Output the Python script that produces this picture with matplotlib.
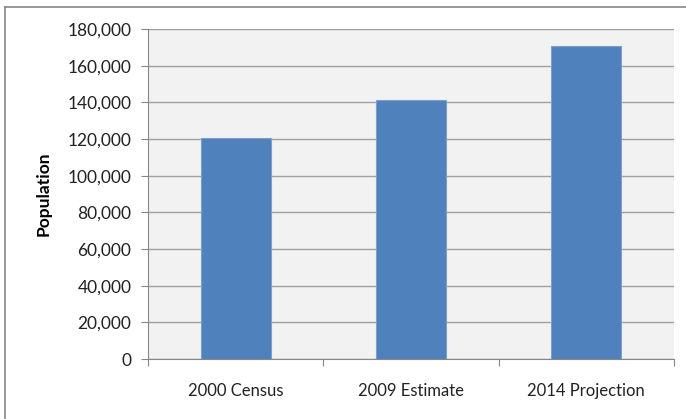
import matplotlib.pyplot as plt
from matplotlib.lines import Line2D
from matplotlib.ticker import FuncFormatter

# данные
categories = ['2000 Census', '2009 Estimate', '2014 Projection']
population = [120500, 141000, 170800]
y_ticks = list(range(0, 180001, 20000))

plt.rcParams['font.family'] = ['Lato', 'DejaVu Sans']

fig = plt.figure(figsize=(6.86, 4.19), dpi=100)
ax = fig.add_axes([148 / 686, 1 - 359 / 419, (674 - 148) / 686, (359 - 29) / 419])

# рамка вокруг всего графика (видны только верх и левый край)
top = 1 - 7 / 419
left = 5 / 686
fig.add_artist(Line2D([left, 1.0], [top, top], transform=fig.transFigure, color='#868686', linewidth=1.2))
fig.add_artist(Line2D([left, left], [0.0, top], transform=fig.transFigure, color='#868686', linewidth=1.2))

ax.set_facecolor('#F2F2F2')
x = range(len(categories))
ax.bar(x, population, width=0.4, color='#4F81BD', edgecolor='#7EA1CC', linewidth=0.8, zorder=3)

ax.set_xlim(-0.5, 2.5 + 1e-9)
ax.set_ylim(0, 180000)
ax.set_yticks(y_ticks)
ax.yaxis.set_major_formatter(FuncFormatter(lambda v, p: f'{int(v):,}'))
ax.grid(axis='y', color='#A0A0A0', linewidth=1.0, zorder=1)

ax.set_xticks([-0.5, 0.5, 1.5, 2.5])
ax.set_xticklabels([])
ax.set_xticks(list(x), minor=True)
ax.set_xticklabels(categories, minor=True, fontsize=12, color='#222222')
ax.tick_params(axis='x', which='minor', length=0, pad=17)
ax.tick_params(axis='x', which='major', length=5, color='#868686', direction='out')
ax.tick_params(axis='y', length=5, color='#868686', labelsize=12.5, labelcolor='#222222', pad=7)

for s in ['top', 'right']:
    ax.spines[s].set_visible(False)
for s in ['left', 'bottom']:
    ax.spines[s].set_color('#868686')

ax.set_ylabel('Population', fontsize=12.5, fontweight='bold', labelpad=11)

fig.savefig('out.png', dpi=100)
